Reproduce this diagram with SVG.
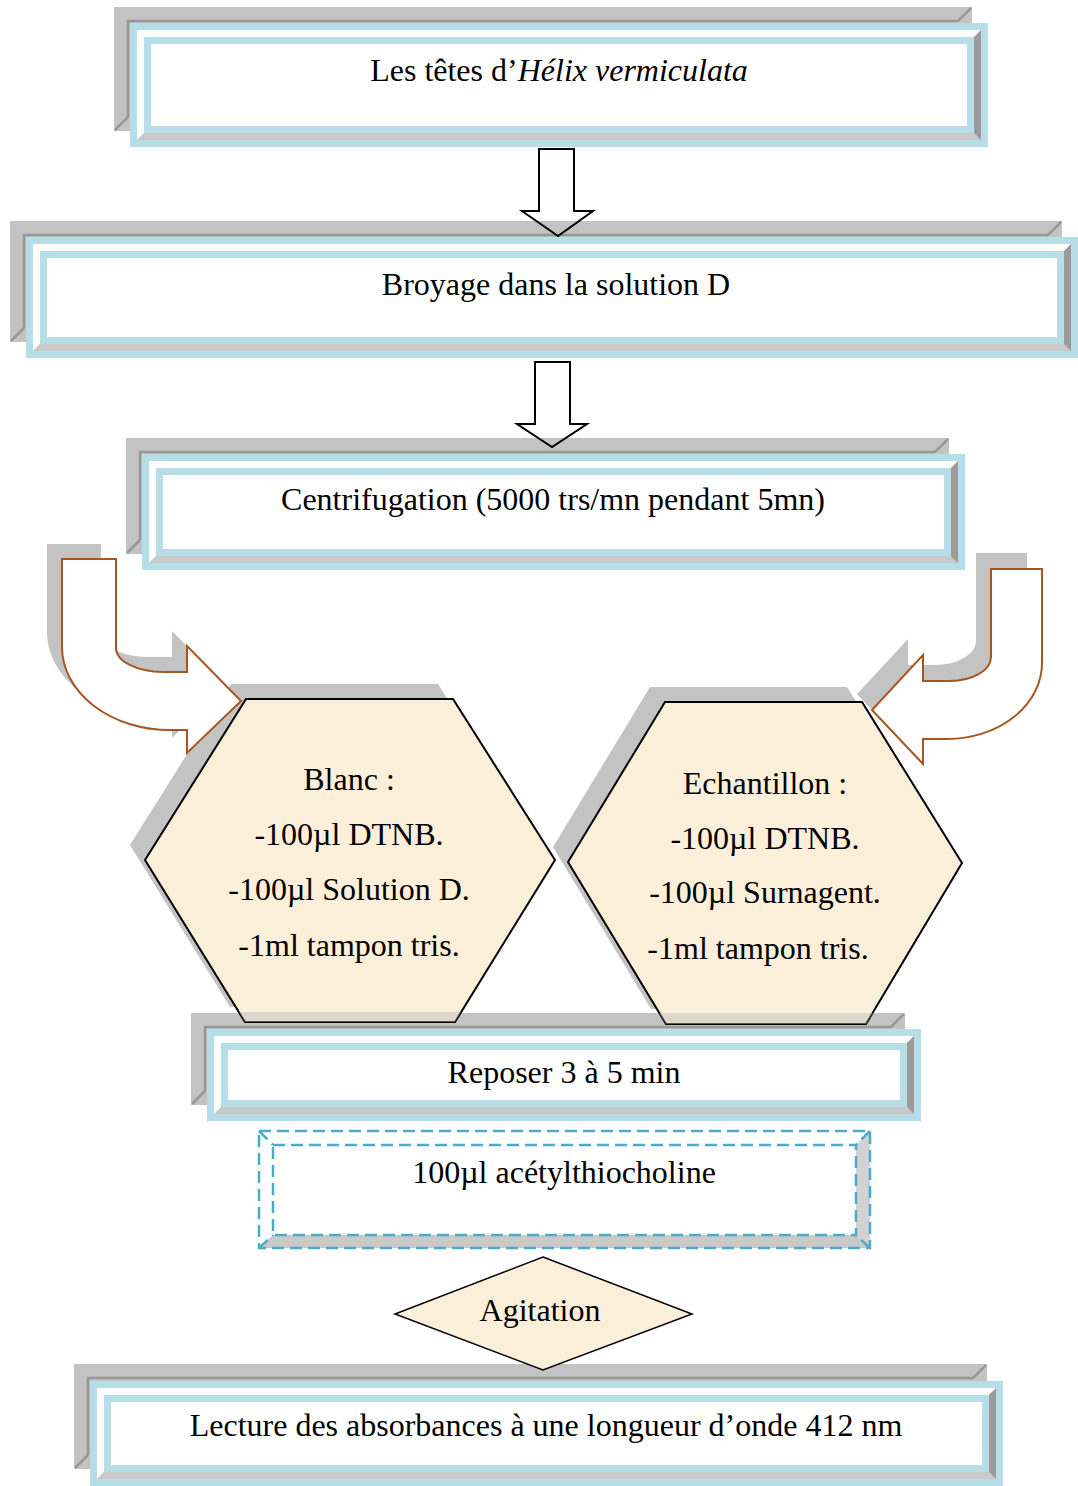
<svg xmlns="http://www.w3.org/2000/svg" width="1078" height="1486" viewBox="0 0 1078 1486">
<style>
.sh{fill:#c3c3c3}
.shl{fill:none;stroke:#979797;stroke-width:2.5}
.fo{fill:#b7dde8}
.bw{fill:#ffffff}
.bg{fill:#c9c9c9}
.bd{fill:#9b9b9b}
.t{font-family:"Liberation Serif","Times New Roman",serif;font-size:32px;fill:#000;text-anchor:middle}
.hex{fill:#fcefd9;stroke:#000;stroke-width:2}
.hsh{fill:#c3c3c3}
.dash{fill:none;stroke:#4bacc6;stroke-width:2.5;stroke-dasharray:12 6}
.cur{fill:#ffffff;stroke:#a65620;stroke-width:2}
.dn{fill:none;stroke:#000;stroke-width:2;stroke-linejoin:miter}
</style>
<rect width="1078" height="1486" fill="#ffffff"/>

<g id="box1">
<rect class="sh" x="114" y="7" width="858" height="124"/>
<polyline class="shl" points="128,117 128,21 958,21"/>
<line class="shl" x1="115" y1="130" x2="128" y2="117"/>
<line class="shl" x1="971" y1="8" x2="958" y2="21"/>
<rect class="fo" x="130" y="23" width="858" height="124"/>
<polygon class="bw" points="137,30 981,30 974,37 144,37"/>
<polygon class="bw" points="137,30 144,37 144,133 137,140"/>
<polygon class="bg" points="137,140 981,140 974,133 144,133"/>
<polygon class="bd" points="981,30 981,140 974,133 974,37"/>
<rect class="fo" x="144" y="37" width="830" height="96"/>
<rect class="bw" x="151" y="44" width="816" height="82"/>
<text class="t" x="559" y="81">Les têtes d’<tspan font-style="italic">Hélix vermiculata</tspan></text>
</g>

<g id="box2">
<rect class="sh" x="10" y="221" width="1052" height="121"/>
<polyline class="shl" points="24,328 24,235 1048,235"/>
<line class="shl" x1="11" y1="341" x2="24" y2="328"/>
<line class="shl" x1="1061" y1="222" x2="1048" y2="235"/>
<rect class="fo" x="26" y="237" width="1052" height="121"/>
<polygon class="bw" points="33,244 1071,244 1064,251 40,251"/>
<polygon class="bw" points="33,244 40,251 40,344 33,351"/>
<polygon class="bg" points="33,351 1071,351 1064,344 40,344"/>
<polygon class="bd" points="1071,244 1071,351 1064,344 1064,251"/>
<rect class="fo" x="40" y="251" width="1024" height="93"/>
<rect class="bw" x="47" y="258" width="1010" height="79"/>
<text class="t" x="556" y="295">Broyage dans la solution D</text>
</g>

<g id="box3">
<rect class="sh" x="126" y="438" width="823" height="116"/>
<polyline class="shl" points="140,540 140,452 935,452"/>
<line class="shl" x1="127" y1="553" x2="140" y2="540"/>
<line class="shl" x1="948" y1="439" x2="935" y2="452"/>
<rect class="fo" x="142" y="454" width="823" height="116"/>
<polygon class="bw" points="149,461 958,461 951,468 156,468"/>
<polygon class="bw" points="149,461 156,468 156,556 149,563"/>
<polygon class="bg" points="149,563 958,563 951,556 156,556"/>
<polygon class="bd" points="958,461 958,563 951,556 951,468"/>
<rect class="fo" x="156" y="468" width="795" height="88"/>
<rect class="bw" x="163" y="475" width="781" height="74"/>
<text class="t" x="553" y="510">Centrifugation (5000 trs/mn pendant 5mn)</text>
</g>

<g id="reposer">
<rect class="sh" x="191" y="1013" width="714" height="92"/>
<polyline class="shl" points="205,1091 205,1027 891,1027"/>
<line class="shl" x1="192" y1="1104" x2="205" y2="1091"/>
<line class="shl" x1="904" y1="1014" x2="891" y2="1027"/>
<rect class="fo" x="207" y="1029" width="714" height="92"/>
<polygon class="bw" points="214,1036 914,1036 907,1043 221,1043"/>
<polygon class="bw" points="214,1036 221,1043 221,1107 214,1114"/>
<polygon class="bg" points="214,1114 914,1114 907,1107 221,1107"/>
<polygon class="bd" points="914,1036 914,1114 907,1107 907,1043"/>
<rect class="fo" x="221" y="1043" width="686" height="64"/>
<rect class="bw" x="228" y="1050" width="672" height="50"/>
<text class="t" x="564" y="1083">Reposer 3 à 5 min</text>
</g>

<g id="blanc">
<polygon class="hsh" points="231,684 438,684 540,845 440,1007 230,1007 130,845"/>
<polygon class="hex" points="246,699 453,699 555,860 455,1022 245,1022 145,860"/>
<polygon fill="#b9b9b9" fill-opacity="0.45" points="239,1012 461,1012 455,1022 245,1022"/>
<text class="t" x="349" y="790">Blanc :</text>
<text class="t" x="349" y="845">-100µl DTNB.</text>
<text class="t" x="349" y="900">-100µl Solution D.</text>
<text class="t" x="349" y="956">-1ml tampon tris.</text>
</g>

<g id="echantillon">
<polygon class="hsh" points="650,687 847,687 947,848 851,1009 651,1009 553,847"/>
<polygon class="hex" points="665,702 862,702 962,863 866,1024 666,1024 568,862"/>
<polygon fill="#b9b9b9" fill-opacity="0.45" points="659,1013 873,1013 866,1024 666,1024"/>
<text class="t" x="765" y="794">Echantillon :</text>
<text class="t" x="765" y="849">-100µl DTNB.</text>
<text class="t" x="765" y="903">-100µl Surnagent.</text>
<text class="t" x="758" y="959">-1ml tampon tris.</text>
</g>

<g id="acetylthiocholine">
<polygon fill="#c9c9c9" points="259,1248 273,1235 856,1235 870,1248"/>
<polygon fill="#d2d2d2" points="856,1145 870,1131 870,1248 856,1235"/>
<rect class="dash" x="259" y="1131" width="611" height="117"/>
<rect class="dash" x="273" y="1145" width="583" height="90"/>
<line class="dash" x1="259" y1="1131" x2="273" y2="1145"/>
<line class="dash" x1="259" y1="1248" x2="273" y2="1235"/>
<line class="dash" x1="870" y1="1131" x2="856" y2="1145"/>
<line class="dash" x1="870" y1="1248" x2="856" y2="1235"/>
<text class="t" x="564" y="1183">100µl acétylthiocholine</text>
</g>

<g id="lecture">
<rect class="sh" x="74" y="1364" width="913" height="105"/>
<polyline class="shl" points="88,1455 88,1378 973,1378"/>
<line class="shl" x1="75" y1="1468" x2="88" y2="1455"/>
<line class="shl" x1="986" y1="1365" x2="973" y2="1378"/>
<rect class="fo" x="90" y="1381" width="913" height="105"/>
<polygon class="bw" points="97,1388 996,1388 989,1395 104,1395"/>
<polygon class="bw" points="97,1388 104,1395 104,1472 97,1479"/>
<polygon class="bg" points="97,1479 996,1479 989,1472 104,1472"/>
<polygon class="bd" points="996,1388 996,1479 989,1472 989,1395"/>
<rect class="fo" x="104" y="1395" width="885" height="77"/>
<rect class="bw" x="111" y="1402" width="871" height="63"/>
<text class="t" x="546" y="1436">Lecture des absorbances à une longueur d’onde 412 nm</text>
</g>

<g id="agitation">
<polygon fill="#fcefd9" stroke="#000" stroke-width="1.5" points="543,1257 692,1314 543,1370 395,1314"/>
<text class="t" x="540" y="1321">Agitation</text>
</g>

<g id="connectors">
<polygon class="dn" points="539,149 574,149 574,211 593,211 558,236 522,211 539,211"/>
<polygon class="dn" points="535,362 570,362 570,424 587,424 552,447 517,424 535,424"/>
<path class="sh" transform="translate(-15,-15)" d="M62,559 H116 V648 A47,24 0 0 0 163,672 H187 V646 L241,701 L187,753 V730 H170 A108,83 0 0 1 62,647 Z"/>
<path class="cur" d="M62,559 H116 V648 A47,24 0 0 0 163,672 H187 V646 L241,701 L187,753 V730 H170 A108,83 0 0 1 62,647 Z"/>
<path class="sh" transform="translate(-15,-16)" d="M991,569 H1042 V663 A95,76 0 0 1 947,739 H923 V764 L872,710 L923,655 V681 H950 A41,24 0 0 0 991,657 Z"/>
<path class="cur" d="M991,569 H1042 V663 A95,76 0 0 1 947,739 H923 V764 L872,710 L923,655 V681 H950 A41,24 0 0 0 991,657 Z"/>
</g>
</svg>
